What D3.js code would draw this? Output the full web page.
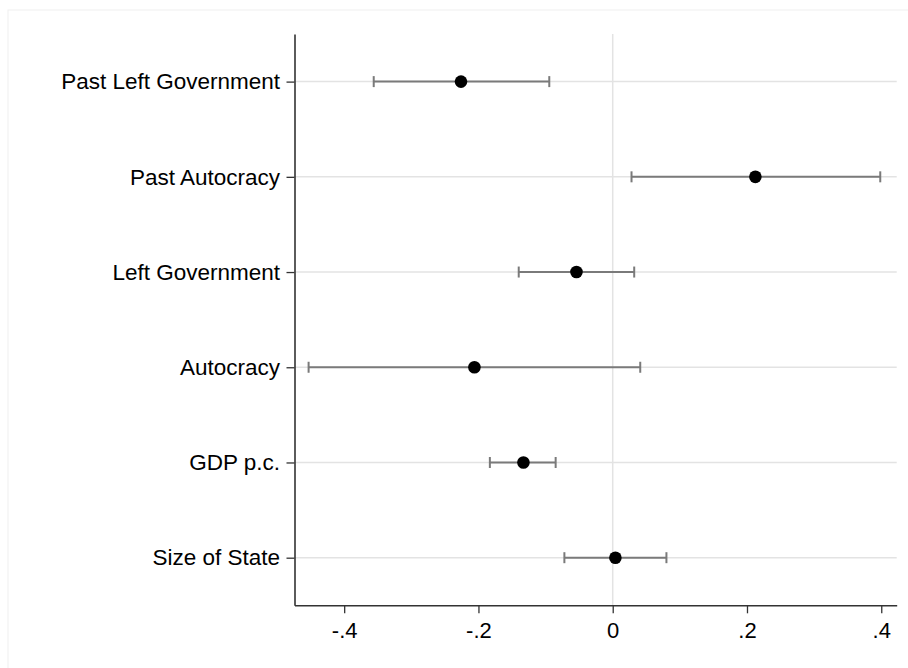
<!DOCTYPE html>
<html>
<head>
<meta charset="utf-8">
<script src="https://cdn.jsdelivr.net/npm/d3@7"></script>
<style>
  body { margin: 0; background: #fff; }
  text { font-family: "Liberation Sans", Arial, Helvetica, sans-serif; }
</style>
</head>
<body>
<div id="wrapper"></div>
<script>
// coefficient plot data
const labels = ["Past Left Government", "Past Autocracy", "Left Government", "Autocracy", "GDP p.c.", "Size of State"];
const estimates = [-0.226, 0.2125, -0.054, -0.206, -0.133, 0.004];
const lower = [-0.356, 0.028, -0.140, -0.453, -0.183, -0.072];
const upper = [-0.0945, 0.3985, 0.032, 0.041, -0.085, 0.080];
const xTicks = [-0.4, -0.2, 0, 0.2, 0.4];

const width = 908, height = 668;
const plotLeft = 294.5, plotRight = 896.7, plotTop = 34, plotBottom = 605.3;

const svg = d3.select("#wrapper")
  .append("svg")
  .attr("width", width)
  .attr("height", height);

// faint outer frame
svg.append("rect")
  .attr("x", 8).attr("y", 10)
  .attr("width", 920).attr("height", 700)
  .attr("fill", "none")
  .attr("stroke", "#efefef")
  .attr("stroke-width", 1);

const x = d3.scaleLinear()
  .domain([-0.474, 0.423])
  .range([plotLeft, plotRight]);

const y = d3.scalePoint()
  .domain(labels)
  .range([plotTop, plotBottom])
  .padding(0.5);

const rows = labels.map((l, i) => ({ label: l, est: estimates[i], lo: lower[i], hi: upper[i] }));

// grid lines
const grid = svg.append("g");
grid.selectAll("line.h")
  .data(labels)
  .enter()
  .append("line")
  .attr("class", "h")
  .attr("x1", plotLeft).attr("x2", plotRight)
  .attr("y1", d => y(d)).attr("y2", d => y(d))
  .attr("stroke", "#e3e3e3")
  .attr("stroke-width", 1.5);
grid.append("line")
  .attr("x1", x(0)).attr("x2", x(0))
  .attr("y1", plotTop).attr("y2", plotBottom)
  .attr("stroke", "#e3e3e3")
  .attr("stroke-width", 1.5);

// confidence intervals
const ci = svg.append("g")
  .selectAll("g")
  .data(rows)
  .enter()
  .append("g")
  .attr("stroke", "#7a7a7a")
  .attr("stroke-width", 2);

ci.append("line")
  .attr("x1", d => x(d.lo)).attr("x2", d => x(d.hi))
  .attr("y1", d => y(d.label)).attr("y2", d => y(d.label));
ci.append("line")
  .attr("x1", d => x(d.lo)).attr("x2", d => x(d.lo))
  .attr("y1", d => y(d.label) - 5.5).attr("y2", d => y(d.label) + 5.5);
ci.append("line")
  .attr("x1", d => x(d.hi)).attr("x2", d => x(d.hi))
  .attr("y1", d => y(d.label) - 5.5).attr("y2", d => y(d.label) + 5.5);

// point estimates
svg.append("g")
  .selectAll("circle")
  .data(rows)
  .enter()
  .append("circle")
  .attr("cx", d => x(d.est))
  .attr("cy", d => y(d.label))
  .attr("r", 6.3)
  .attr("fill", "#000");

// axes
const fmt = d => d === 0 ? "0" : d3.format(".1f")(d).replace("0.", ".").replace("\u2212", "-");

const xAxis = svg.append("g")
  .attr("transform", `translate(0,${plotBottom})`)
  .call(d3.axisBottom(x).tickValues(xTicks).tickFormat(fmt).tickSize(8).tickPadding(9.5).tickSizeOuter(0));
xAxis.select(".domain").attr("stroke", "#333").attr("stroke-width", 1.6);
xAxis.selectAll(".tick line").attr("stroke", "#333").attr("stroke-width", 1.3);
xAxis.selectAll("text").attr("font-size", 22).attr("fill", "#000")
  .attr("font-family", "Liberation Sans, Arial, sans-serif");

const yAxis = svg.append("g")
  .attr("transform", `translate(${plotLeft},0)`)
  .call(d3.axisLeft(y).tickSize(8).tickPadding(6.5).tickSizeOuter(0));
yAxis.select(".domain").attr("stroke", "#333").attr("stroke-width", 1.6);
yAxis.selectAll(".tick line").attr("stroke", "#333").attr("stroke-width", 1.3);
yAxis.selectAll("text").attr("font-size", 22.5).attr("fill", "#000")
  .attr("font-family", "Liberation Sans, Arial, sans-serif");
</script>
</body>
</html>
